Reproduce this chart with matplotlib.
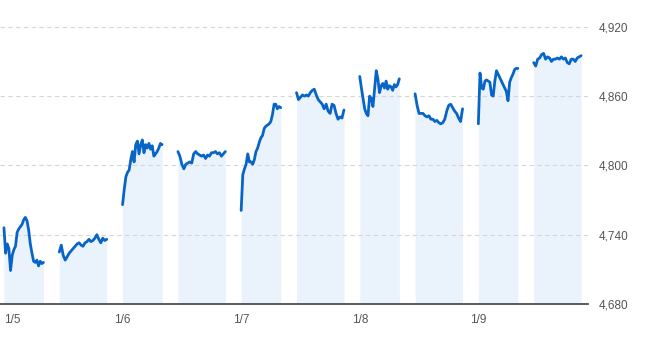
import numpy as np
import matplotlib
matplotlib.use("Agg")
import matplotlib.pyplot as plt
from matplotlib.ticker import FuncFormatter, FixedLocator

# ---- data ----
day_labels = ["1/5", "1/6", "1/7", "1/8", "1/9"]

am_0105 = [4746, 4724, 4732, 4728, 4709, 4722, 4727, 4730, 4742, 4745, 4747, 4749, 4753,
           4755, 4752, 4744, 4732, 4724, 4717, 4716, 4718, 4713, 4717, 4715, 4716]
pm_0105 = [4725, 4731, 4722, 4718, 4721, 4724, 4726, 4728, 4730, 4732, 4733, 4731, 4730,
           4733, 4734, 4736, 4734, 4735, 4737, 4740, 4736, 4733, 4737, 4735, 4736]
am_0106 = [4766, 4779, 4790, 4794, 4796, 4805, 4812, 4803, 4818, 4821, 4810, 4818, 4822,
           4811, 4818, 4815, 4819, 4814, 4817, 4808, 4810, 4812, 4815, 4819, 4818]
pm_0106 = [4812, 4808, 4801, 4797, 4801, 4802, 4803, 4802, 4810, 4812, 4810, 4809, 4808,
           4809, 4806, 4809, 4808, 4811, 4811, 4812, 4810, 4811, 4808, 4810, 4812]
am_0107 = [4761, 4792, 4797, 4801, 4810, 4803, 4803, 4801, 4805, 4812, 4815, 4820, 4824,
           4826, 4832, 4834, 4835, 4836, 4838, 4844, 4853, 4853, 4849, 4851, 4850]
pm_0107 = [4863, 4857, 4859, 4861, 4860, 4861, 4860, 4863, 4865, 4866, 4861, 4857, 4855,
           4853, 4849, 4853, 4847, 4845, 4853, 4852, 4845, 4840, 4842, 4841, 4848]
am_0108 = [4877, 4867, 4858, 4849, 4845, 4843, 4860, 4858, 4851, 4866, 4882, 4875, 4863,
           4869, 4871, 4867, 4873, 4866, 4869, 4868, 4865, 4870, 4868, 4870, 4875]
pm_0108 = [4862, 4852, 4845, 4845, 4845, 4843, 4842, 4843, 4840, 4840, 4838, 4839, 4837,
           4836, 4837, 4840, 4847, 4852, 4853, 4850, 4847, 4845, 4841, 4838, 4849]
am_0109 = [4836, 4880, 4867, 4866, 4873, 4874, 4873, 4872, 4861, 4860, 4873, 4882, 4879,
           4876, 4873, 4870, 4867, 4864, 4856, 4872, 4876, 4879, 4883, 4884, 4884]
pm_0109 = [4889, 4886, 4892, 4893, 4896, 4897, 4892, 4894, 4893, 4890, 4892, 4892, 4893,
           4892, 4894, 4892, 4893, 4889, 4888, 4892, 4892, 4890, 4893, 4894, 4895]

sessions = [(am_0105, pm_0105), (am_0106, pm_0106), (am_0107, pm_0107),
            (am_0108, pm_0108), (am_0109, pm_0109)]

y_ticks = [4680, 4740, 4800, 4860, 4920]

# ---- layout (trading minutes, with gaps between sessions) ----
AM_LEN, PM_LEN, GAP = 150, 180, 60
DAY = AM_LEN + GAP + PM_LEN + GAP

plt.rcParams["font.family"] = ["Liberation Sans", "DejaVu Sans"]

fig = plt.figure(figsize=(6.54, 3.48), dpi=100)
ax = fig.add_axes([0, 44 / 348, 588 / 654, 294.5 / 348])

line_color = "#0865c8"
fill_color = "#eaf2fb"
base = y_ticks[0]

for d, (am, pm) in enumerate(sessions):
    for start, length, vals in ((d * DAY, AM_LEN, am), (d * DAY + AM_LEN + GAP, PM_LEN, pm)):
        x = np.linspace(start, start + length, len(vals))
        ax.fill_between(x, vals, base, color=fill_color, linewidth=0, zorder=1)
        ax.plot(x, vals, color=line_color, linewidth=2.0, solid_joinstyle="round",
                solid_capstyle="round", zorder=3)

ax.set_xlim(-15, 2216)
ax.set_ylim(4680, 4935)

ax.yaxis.set_major_locator(FixedLocator(y_ticks))
ax.yaxis.set_major_formatter(FuncFormatter(lambda v, p: f"{v:,.0f}"))
ax.yaxis.tick_right()
ax.tick_params(axis="y", length=0, pad=8, labelcolor="#555555", labelsize=8.5)

ax.set_xticks([d * DAY for d in range(len(day_labels))])
ax.set_xticklabels(day_labels)
ax.tick_params(axis="x", length=0, pad=7, labelcolor="#555555", labelsize=8.5)
ax.get_xticklabels()[0].set_horizontalalignment("left")

ax.grid(axis="y", color="#d6d6d6", linestyle=(0, (4, 3)), linewidth=0.8)
ax.grid(axis="x", visible=False)

for s in ("top", "left", "right"):
    ax.spines[s].set_visible(False)
ax.spines["bottom"].set_color("#4a5058")
ax.spines["bottom"].set_linewidth(1.3)

fig.savefig("out.png", dpi=100)
